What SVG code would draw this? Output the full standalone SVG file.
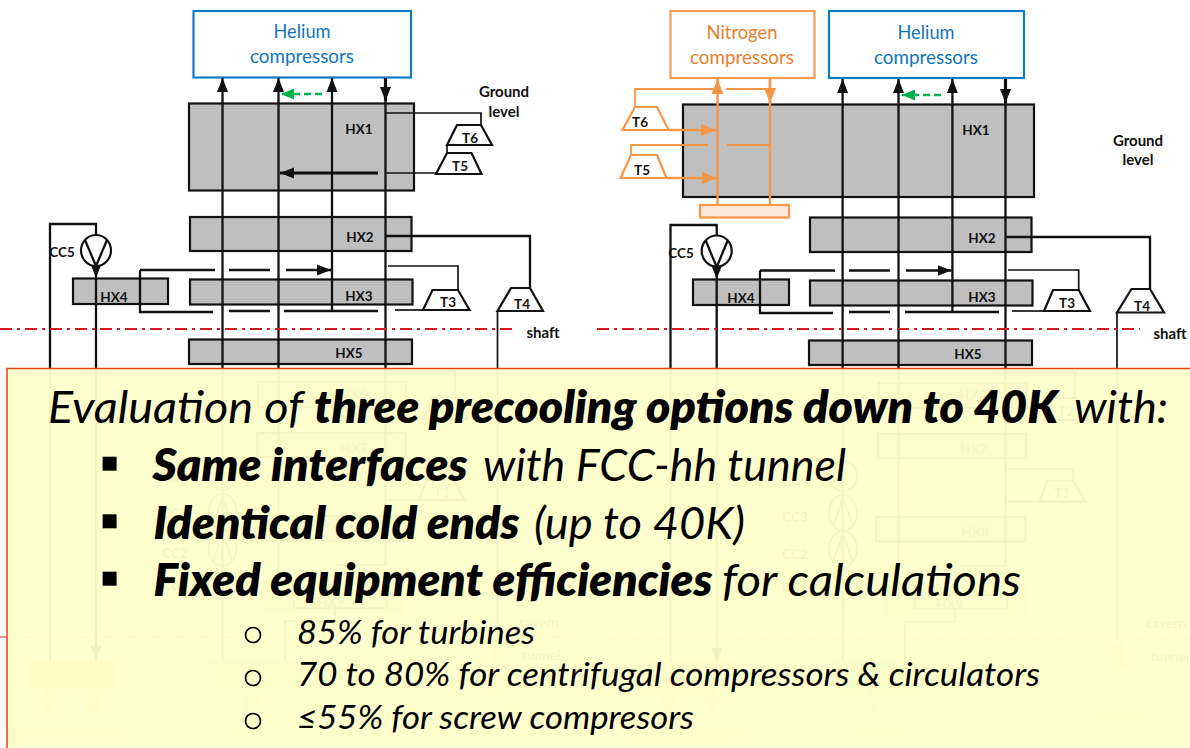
<svg xmlns="http://www.w3.org/2000/svg" width="1190" height="748" viewBox="0 0 1190 748">
<style>
text{font-family:Lato,"Liberation Sans",sans-serif;fill:#111}
.hx{fill:#bfbfbf;stroke:#111;stroke-width:2.2}
.t{fill:#fff;stroke:#111;stroke-width:2.2}
.to{fill:#fff;stroke:#f79646;stroke-width:2.2}
.l{font-size:13.5px;font-weight:700;text-anchor:middle}
.site{font-size:15px;font-weight:700;text-anchor:middle}
.f{font-size:13.5px;font-weight:700;text-anchor:middle}
.ln{fill:none;stroke:#111;stroke-width:2.3}
.th{fill:none;stroke:#111;stroke-width:1.7}
.o{fill:none;stroke:#f79646;stroke-width:2.4}
.he{fill:#fff;stroke:#0f7cc6;stroke-width:2.2}
.n2{fill:#fff;stroke:#f79c56;stroke-width:2.2}
.bt{font-size:19px;text-anchor:middle;fill:#0f75bd}
.ot{font-size:19px;text-anchor:middle;fill:#e97f2c}
.dd{fill:none;stroke:#d11a20;stroke-width:1.8;stroke-dasharray:12 5 3 5}
.g{fill:none;stroke:#00b050;stroke-width:2.5;stroke-dasharray:7 4}
.q{fill:#f9b27a;stroke:#f9b27a}
.qg{fill:#a9db70;stroke:#a9db70}
.m{font-size:45px;font-style:italic;fill:#000}
.b{font-weight:800}
.s{font-size:33px;font-style:italic;fill:#000}
.sq{fill:#000}
.ci{fill:none;stroke:#000;stroke-width:1.7}
.cc{fill:#fff;stroke:#111;stroke-width:2.2}
.ccf{fill:none;stroke:#111;stroke-width:1.6}
</style>
<defs>
<marker id="a" markerUnits="userSpaceOnUse" markerWidth="15" markerHeight="14" refX="14" refY="7" orient="auto"><path d="M0 1.500L14 7L0 12.500z" fill="#111"/></marker>
<marker id="ao" markerUnits="userSpaceOnUse" markerWidth="16" markerHeight="14" refX="15" refY="7" orient="auto"><path d="M0 1L15 7L0 13z" fill="#f79646"/></marker>
<marker id="ag" markerUnits="userSpaceOnUse" markerWidth="14" markerHeight="14" refX="13" refY="7" orient="auto"><path d="M0 1.500L13 7L0 12.500z" fill="#00b050"/></marker>
</defs>

<g id="left-panel">
<g id="l-helium"><rect class="he" x="193.500" y="11" width="217.500" height="66.500"/><text class="bt" x="302" y="38" textLength="57" lengthAdjust="spacingAndGlyphs">Helium</text><text class="bt" x="302" y="62.500" textLength="104" lengthAdjust="spacingAndGlyphs">compressors</text></g>
<g id="l-hx1"><rect class="hx" x="189" y="103.500" width="225" height="87"/><text class="l" x="359" y="134">HX1</text></g>
<g id="l-hx2"><rect class="hx" x="190" y="217" width="221.500" height="34"/><text class="l" x="360" y="242">HX2</text></g>
<g id="l-hx3"><rect class="hx" x="190" y="279.500" width="222.500" height="25"/><text class="l" x="359" y="301">HX3</text></g>
<g id="l-hx4"><rect class="hx" x="73" y="278.500" width="95" height="25.500"/><text class="l" x="114" y="302">HX4</text></g>
<g id="l-hx5"><rect class="hx" x="189" y="339.500" width="223" height="24.500"/><text class="l" x="349" y="358">HX5</text></g>
<g id="l-hx6"><rect class="hx" x="258" y="382" width="148" height="25"/><text class="f" x="353" y="399">HX6</text></g>
<g id="l-hx7"><rect class="hx" x="257.400" y="433" width="148.500" height="24"/><text class="f" x="354" y="453">HX7</text></g>
<g id="l-hx8"><rect class="hx" x="255.600" y="516" width="149.500" height="24.700"/><text class="f" x="354" y="534">HX8</text></g>
<g id="l-hx9"><rect x="264" y="584" width="140.500" height="29" fill="#a9db70" stroke="#a9db70" stroke-width="2"/><rect class="th" x="294" y="594" width="92.500" height="14"/><text class="f" x="331" y="607">HX9</text></g>
</g>

<g id="right-panel">
<g id="r-nitrogen"><rect class="n2" x="670.500" y="11" width="144" height="67"/><text class="ot" x="742" y="39" textLength="71" lengthAdjust="spacingAndGlyphs">Nitrogen</text><text class="ot" x="742" y="63.500" textLength="104" lengthAdjust="spacingAndGlyphs">compressors</text></g>
<g id="r-helium"><rect class="he" x="829" y="11" width="195" height="67"/><text class="bt" x="926" y="39" textLength="57" lengthAdjust="spacingAndGlyphs">Helium</text><text class="bt" x="926" y="63.500" textLength="104" lengthAdjust="spacingAndGlyphs">compressors</text></g>
<g id="r-hx1"><rect class="hx" x="683" y="104.500" width="351" height="92.500"/><text class="l" x="976" y="135">HX1</text></g>
<g id="r-hx2"><rect class="hx" x="810" y="217.500" width="221.500" height="34.500"/><text class="l" x="982" y="243">HX2</text></g>
<g id="r-hx3"><rect class="hx" x="810" y="280.500" width="222.500" height="25"/><text class="l" x="982" y="302">HX3</text></g>
<g id="r-hx4"><rect class="hx" x="693" y="279.500" width="96" height="25.500"/><text class="l" x="741" y="303">HX4</text></g>
<g id="r-hx5"><rect class="hx" x="809" y="340.500" width="223" height="24.500"/><text class="l" x="968" y="359">HX5</text></g>
<g id="r-hx6"><rect class="hx" x="878.600" y="383" width="148" height="25"/><text class="f" x="973" y="400">HX6</text></g>
<g id="r-hx7"><rect class="hx" x="877.800" y="434" width="148.500" height="24"/><text class="f" x="974" y="454">HX7</text></g>
<g id="r-hx8"><rect class="hx" x="876" y="517" width="149.500" height="24.700"/><text class="f" x="975" y="537">HX8</text></g>
<g id="r-hx9"><rect x="884.600" y="585" width="140.500" height="29" fill="#a9db70" stroke="#a9db70" stroke-width="2"/><rect class="th" x="914.500" y="595" width="92.500" height="14"/><text class="f" x="950" y="609">HX9</text></g>
<g id="r-precooler"><rect x="700" y="205" width="89" height="12.500" fill="#fde9d9" stroke="#f79646" stroke-width="2.200"/></g>
</g>

<g id="connectors">
<path class="ln" marker-end="url(#a)" d="M222.500 660V78"/>
<path class="ln" marker-end="url(#a)" d="M278.500 600V78"/>
<path class="ln" marker-end="url(#a)" d="M332 311V78"/>
<path class="ln" d="M385.500 566V100"/>
<path class="ln" style="stroke-width:3.200" marker-end="url(#a)" d="M385.500 78V101"/>
<path class="g" marker-end="url(#ag)" d="M322 94H281"/>
<path class="th" d="M385 113H481V125"/>
<path class="ln" style="stroke-width:3" marker-end="url(#a)" d="M378 173H280"/>
<path class="th" d="M385 173H436"/>
<path class="th" d="M447 145V153"/>
<path class="ln" d="M386 236H530V288"/>
<path class="th" d="M388 266H458V290"/>
<path class="th" d="M423 310H395"/>
<path class="th" d="M497.500 311V640"/>
<path class="ln" d="M140 270H215M229 270H270"/>
<path class="ln" marker-end="url(#a)" d="M286 270H331"/>
<path class="ln" d="M213 312H140V270M229 311H270M284 311H378"/>
<path class="ln" d="M50 660V224H96V235"/>
<path class="ln" marker-end="url(#a)" d="M96 262V278"/>
<path class="ln" marker-end="url(#a)" d="M96 278V660"/>
<path class="th" d="M386 371H455V397M386 468H453V480M419 500H386"/>
<path class="th" d="M335 565H385M335 609V621H285V660"/>
<path class="ln" marker-end="url(#a)" d="M842.600 662V79"/>
<path class="ln" marker-end="url(#a)" d="M898.500 600V79"/>
<path class="ln" marker-end="url(#a)" d="M952.400 312V79"/>
<path class="ln" d="M1005.500 566V101"/>
<path class="ln" style="stroke-width:3.200" marker-end="url(#a)" d="M1005.500 79V103"/>
<path class="g" marker-end="url(#ag)" d="M941 95H902"/>
<path class="o" marker-end="url(#ao)" d="M717.500 205V79"/>
<path class="o" d="M770 205V100"/>
<path class="o" style="stroke-width:2.800" marker-end="url(#ao)" d="M770 79V103"/>
<path class="o" style="stroke-width:1.800" d="M635 107V89H717M726 89H770"/>
<path class="o" style="stroke-width:1.800" d="M631 155V145H708M727 145H770"/>
<path class="o" marker-end="url(#ao)" d="M668 130H716"/>
<path class="o" marker-end="url(#ao)" d="M666 178H717"/>
<path class="ln" d="M1006 237H1150V289"/>
<path class="th" d="M1008 270H1078.700V290"/>
<path class="th" d="M1044 311H1012"/>
<path class="th" d="M1117 312V640"/>
<path class="ln" d="M760 270.500H835M849 270.500H890"/>
<path class="ln" marker-end="url(#a)" d="M906 270.500H951.500"/>
<path class="ln" d="M833 313H760V270.500M849 312H890M905 312H999"/>
<path class="ln" d="M670.500 662V225H716.700V235"/>
<path class="ln" marker-end="url(#a)" d="M716.700 263V279"/>
<path class="ln" marker-end="url(#a)" d="M716.700 279V662"/>
<path class="th" d="M1006 372H1075V398M1006 469H1073.400V481M1039.700 501.700H1006"/>
<path class="th" d="M955 566H1005M955 609V622H905V661"/>
<path class="dd" d="M0 329H513M597 329H1140"/>
<path class="dd" style="stroke-width:1.200" d="M0 637H572M607 638H1190"/>
</g>

<g id="turbines">
<g id="l-t6"><path class="t" d="M457 125H481L492 145H447z"/><text class="l" x="470" y="143">T6</text></g>
<g id="l-t5"><path class="t" d="M447 153H471.500L481.500 174H436z"/><text class="l" x="460" y="171">T5</text></g>
<g id="l-t4"><path class="t" d="M511 288H530L543 311H497.500z"/><text class="l" x="522" y="309">T4</text></g>
<g id="l-t3"><path class="t" d="M432.500 290H458L469.500 310H423z"/><text class="l" x="448" y="307">T3</text></g>
<g id="l-t2"><path class="t" d="M433 397H456L467 419H423z"/><text class="f" x="445" y="414">T2</text></g>
<g id="l-t1"><path class="t" d="M427 480H453L465 500H419z"/><text class="f" x="442" y="497">T1</text></g>
<g id="r-t6"><path class="to" d="M635 107H657L668.500 130H622.500z"/><text class="l" x="640" y="127">T6</text></g>
<g id="r-t5"><path class="to" d="M631 155H657L666.500 178H620.500z"/><text class="l" x="642" y="175">T5</text></g>
<g id="r-t4"><path class="t" d="M1131.500 289H1150L1164 312.500H1117z"/><text class="l" x="1142" y="311">T4</text></g>
<g id="r-t3"><path class="t" d="M1053 290H1078.700L1090 311H1044z"/><text class="l" x="1067" y="308">T3</text></g>
<g id="r-t2"><path class="t" d="M1054 398H1076L1087 420H1044z"/><text class="f" x="1066" y="416">T2</text></g>
<g id="r-t1"><path class="t" d="M1047 481H1073L1085.600 501.700H1039.700z"/><text class="f" x="1062" y="498">T1</text></g>
</g>

<g id="circulators">
<g id="l-cc5"><ellipse class="cc" cx="96" cy="250.500" rx="15" ry="15.500"/><path class="ln" d="M85 240L96 266L107 240"/><text class="l" x="62" y="257">CC5</text></g>
<g id="l-cc4"><ellipse class="ccf" cx="222.500" cy="475" rx="14" ry="15"/><text class="f" x="175" y="481">CC4</text></g>
<g id="l-cc3"><ellipse class="ccf" cx="222.500" cy="512" rx="14" ry="18"/><path class="ccf" d="M213 525L222.500 497L232 525"/><text class="f" x="175" y="518">CC3</text></g>
<g id="l-cc2"><ellipse class="ccf" cx="222.500" cy="548" rx="14" ry="18"/><path class="ccf" d="M213 561L222.500 533L232 561"/><text class="f" x="175" y="558">CC2</text></g>
<g id="l-cc1"><ellipse class="ccf" cx="222.500" cy="584" rx="14" ry="15"/><text class="f" x="175" y="590">CC1</text></g>
<g id="r-cc5"><ellipse class="cc" cx="716.700" cy="251" rx="15" ry="15.500"/><path class="ln" d="M705.700 240.500L716.700 267L727.700 240.500"/><text class="l" x="681" y="258">CC5</text></g>
<g id="r-cc4"><ellipse class="ccf" cx="843" cy="476" rx="14" ry="15"/><text class="f" x="795" y="486">CC4</text></g>
<g id="r-cc3"><ellipse class="ccf" cx="843" cy="513" rx="14" ry="18"/><path class="ccf" d="M833 526L843 498L853 526"/><text class="f" x="795" y="522">CC3</text></g>
<g id="r-cc2"><ellipse class="ccf" cx="843" cy="549" rx="14" ry="18"/><path class="ccf" d="M833 562L843 534L853 562"/><text class="f" x="795" y="559">CC2</text></g>
<g id="r-cc1"><ellipse class="ccf" cx="843" cy="585" rx="14" ry="15"/><text class="f" x="795" y="592">CC1</text></g>
</g>

<g id="loads">
<g id="l-qbs"><rect class="q" x="28" y="661" width="88" height="27"/><path class="q" d="M47 689L37 701H42.500V713H51.500V701H57zM93 689L83 701H88.500V712H97.500V701H103z"/><text class="f" x="68" y="738" style="fill:#f9b27a">Qbs+Qts 40 to 60K</text></g>
<g id="l-qcm"><rect class="qg" x="209" y="661" width="94" height="27"/><path class="qg" d="M251 689L241 701H246V713H256V701H261z"/><text class="f" x="259" y="735" style="fill:#a9db70">Qcm 1.9K</text></g>
<g id="l-qcl"><path class="qg" d="M492 643H503V662H509L497.500 673L486 662H492z"/><text class="f" x="497" y="698" style="fill:#a9db70">Qcl</text><text class="f" x="497" y="717" style="fill:#a9db70">40 to 290K</text></g>
<g id="r-qbs"><rect class="q" x="649" y="662.500" width="87.500" height="26.500"/><path class="q" d="M668 689L658 701H663.500V713H672.500V701H678zM713 689L703 701H708.500V713H717.500V701H723z"/><text class="f" x="688" y="740" style="fill:#f9b27a">Qbs+Qts 40 to 60K</text></g>
<g id="r-qcm"><rect class="qg" x="830" y="662" width="94" height="27"/><path class="qg" d="M871 689L861 701H866V713H876V701H881z"/><text class="f" x="880" y="737" style="fill:#a9db70">Qcm 1.9K</text></g>
<g id="r-qcl"><path class="qg" d="M1112 643H1123V662H1129L1117.500 673L1106 662H1112z"/><text class="f" x="1117" y="700" style="fill:#a9db70">Qcl</text><text class="f" x="1117" y="720" style="fill:#a9db70">40 to 290K</text></g>
</g>

<g id="site-labels">
<text class="site" x="504" y="97">Ground</text><text class="site" x="504" y="117">level</text>
<text class="site" x="1138" y="146">Ground</text><text class="site" x="1138" y="165">level</text>
<text class="site" x="543" y="338">shaft</text><text class="site" x="1170" y="339">shaft</text>
<text class="f" x="539" y="627">cavern</text><text class="f" x="541" y="660">tunnel</text>
<text class="f" x="1166" y="628">cavern</text><text class="f" x="1170" y="661">tunnel</text>
</g>

<g id="callout">
<rect x="7" y="368.500" width="1200" height="400" fill="#ffffcc" fill-opacity="0.955"/>
<path d="M1190 368.500H7V748" fill="none" stroke="#e2401c" stroke-width="1.500"/>
<text class="m" x="48" y="423" textLength="255" lengthAdjust="spacingAndGlyphs">Evaluation of</text>
<text class="m b" x="314" y="423" textLength="744" lengthAdjust="spacingAndGlyphs">three precooling options down to 40K</text>
<text class="m" x="1074" y="423" textLength="94" lengthAdjust="spacingAndGlyphs">with:</text>
<rect class="sq" x="102.600" y="456.700" width="14" height="14"/>
<text class="m b" x="152.500" y="481" textLength="315" lengthAdjust="spacingAndGlyphs">Same interfaces</text>
<text class="m" x="483" y="481" textLength="363" lengthAdjust="spacingAndGlyphs">with FCC-hh tunnel</text>
<rect class="sq" x="102.600" y="514.300" width="14" height="14"/>
<text class="m b" x="153.500" y="539" textLength="366" lengthAdjust="spacingAndGlyphs">Identical cold ends</text>
<text class="m" x="534" y="539" textLength="211" lengthAdjust="spacingAndGlyphs">(up to 40K)</text>
<rect class="sq" x="102.600" y="571.700" width="14" height="14"/>
<text class="m b" x="153.500" y="596" textLength="559" lengthAdjust="spacingAndGlyphs">Fixed equipment efficiencies</text>
<text class="m" x="722" y="596" textLength="299" lengthAdjust="spacingAndGlyphs">for calculations</text>
<circle class="ci" cx="253" cy="635" r="7.500"/>
<text class="s" x="297" y="643.500" textLength="238" lengthAdjust="spacingAndGlyphs">85% for turbines</text>
<circle class="ci" cx="253" cy="678" r="7.500"/>
<text class="s" x="297" y="686" textLength="743" lengthAdjust="spacingAndGlyphs">70 to 80% for centrifugal compressors &amp; circulators</text>
<circle class="ci" cx="253" cy="721" r="7.500"/>
<text class="s" x="297" y="729" textLength="397" lengthAdjust="spacingAndGlyphs">≤55% for screw compresors</text>
</g>
</svg>
